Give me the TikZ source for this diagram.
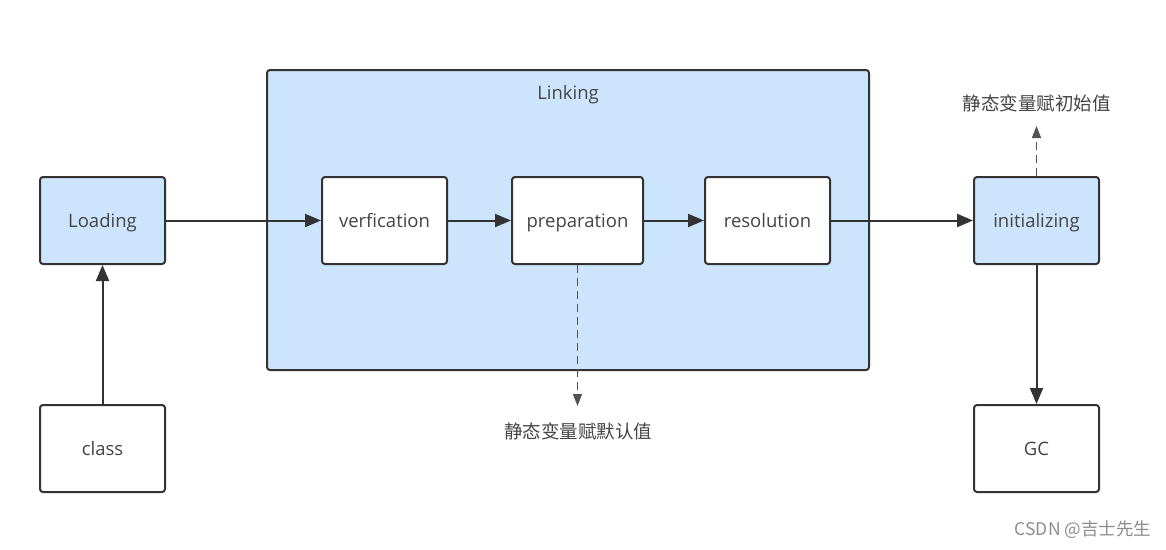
\documentclass[tikz,border=0pt]{standalone}
\usepackage{fontspec}
\setmainfont{Open Sans}
\newfontfamily\cjk{Noto Sans CJK SC}
\usepackage{tikz}
\usetikzlibrary{arrows.meta}
\definecolor{boxblue}{HTML}{CCE5FC}
\definecolor{lineg}{HTML}{333333}
\definecolor{textg}{HTML}{444444}

\begin{document}
\begin{tikzpicture}[x=1pt, y=-1pt,
	stage/.style={draw=lineg, line width=2pt, rounded corners=3pt, fill=white,
		minimum width=125pt, minimum height=87pt, inner sep=0pt,
		text height=16pt, text depth=2pt,
		font=\fontsize{18.5}{21}\selectfont, text=textg},
	bluestage/.style={stage, fill=boxblue},
	flow/.style={draw=lineg, line width=2pt, -{Triangle[length=16pt,width=13pt]}},
	note/.style={draw=lineg!85, line width=1.5pt, dash pattern=on 8pt off 5pt,
		-{Triangle[length=12pt,width=9pt]}},
	notetext/.style={font=\cjk\fontsize{18.5}{21}\selectfont, text=textg}]
	\useasboundingbox (0,0) rectangle (1166,549);

	% linking container
	\node [bluestage, minimum width=602pt, minimum height=300pt] (linking) at (568,220) {};
	\node [font=\fontsize{18.5}{21}\selectfont, text=textg] (linktitle) at (568,95) {Linking};

	\node [bluestage] (loading) at (102.5,220.5) {Loading};
	\node [stage] (class) at (102.5,448.5) {class};

	\node [stage] (verif) at (384.5,220.5) {verfication};
	\node [stage, minimum width=131pt] (prep) at (577.5,220.5) {preparation};
	\node [stage] (resol) at (767.5,220.5) {resolution};

	\node [bluestage] (init) at (1036.5,220.5) {initializing};
	\node [stage] (gc) at (1036.5,448.5) {GC};

	\node [notetext] (defval) at (578,431) {静态变量赋默认值};
	\node [notetext] (initval) at (1036.5,103) {静态变量赋初始值};
	\coordinate (defend) at (577.5,406);
	\coordinate (initend) at (1036.5,126);

	\draw [flow] (class) -- (loading);
	\draw [flow] (loading) -- (verif);
	\draw [flow] (verif) -- (prep);
	\draw [flow] (prep) -- (resol);
	\draw [flow] (resol) -- (init);
	\draw [flow] (init) -- (gc);

	\draw [note] (prep.south) -- (defend);
	\draw [note] (init.north) -- (initend);

	\node [font=\cjk\fontsize{17.5}{20}\selectfont, text=black!45] (mark) at (1083,530) {CSDN @吉士先生};
\end{tikzpicture}
\end{document}
